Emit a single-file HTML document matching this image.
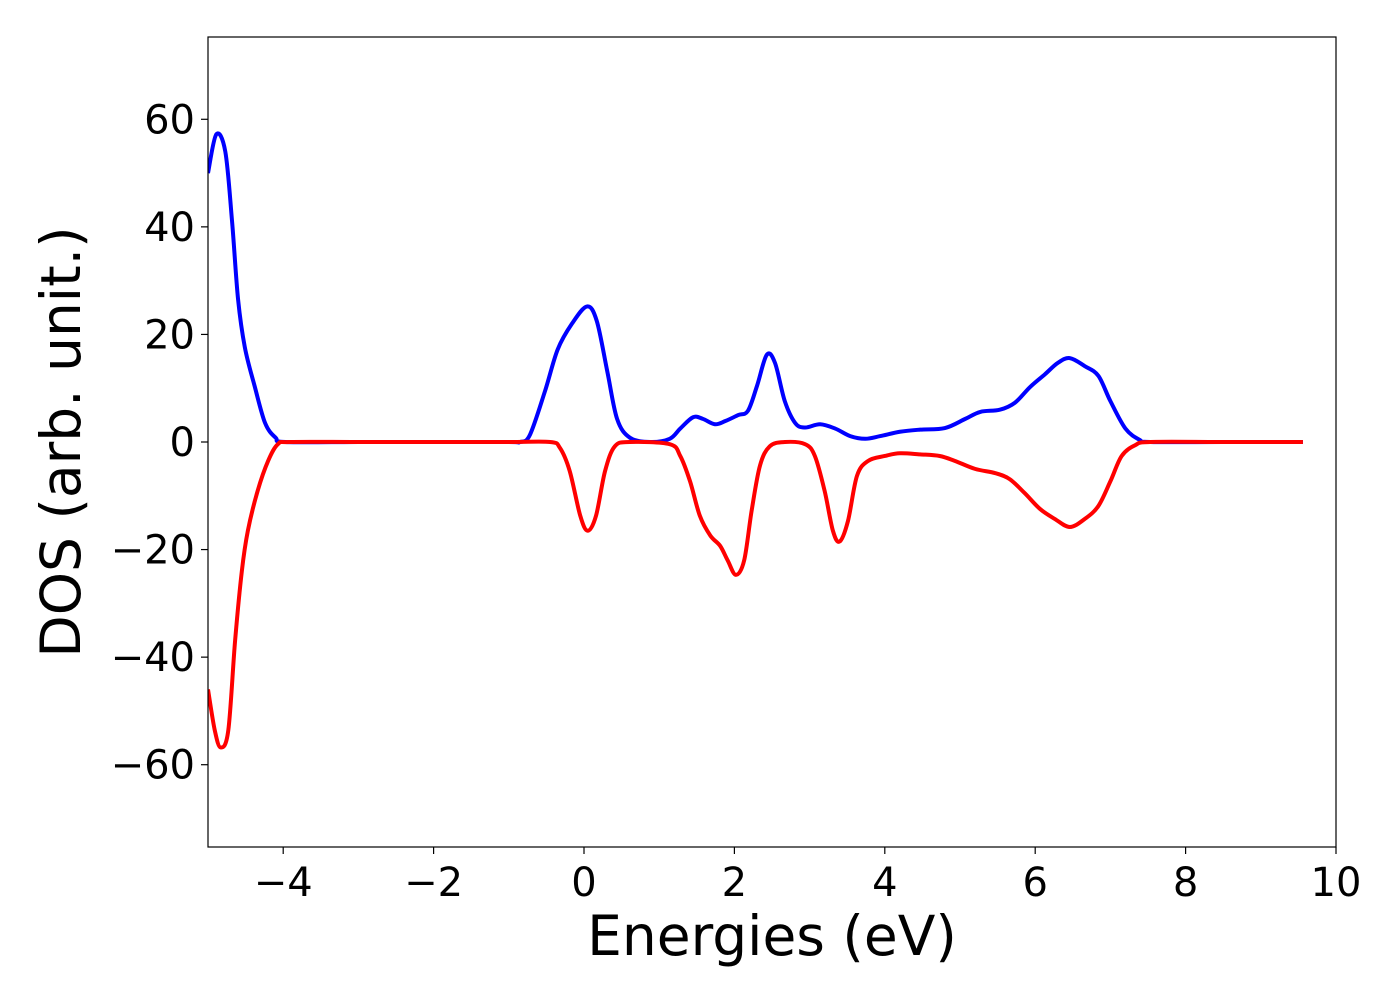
<!DOCTYPE html>
<html><head><meta charset="utf-8"><style>
html,body{margin:0;padding:0;background:#fff;}
svg text{font-family:"DejaVu Sans","Liberation Sans",sans-serif;fill:#000;}
</style></head><body>
<svg id="chart" width="1400" height="1000" viewBox="0 0 1400 1000" xmlns="http://www.w3.org/2000/svg">
<g id="plot"></g>
</svg>
<script>
const upE=[-5,-4.89,-4.77,-4.68,-4.6,-4.51,-4.38,-4.24,-4.1,-3.97,-3,-2,-1,-0.85,-0.72,-0.52,-0.35,-0.16,0.04,0.17,0.31,0.44,0.61,0.88,1.14,1.28,1.45,1.58,1.74,1.88,2.05,2.18,2.3,2.43,2.54,2.67,2.81,2.94,3.14,3.34,3.54,3.74,3.94,4.2,4.47,4.8,5.07,5.27,5.53,5.73,5.93,6.13,6.3,6.46,6.66,6.84,7.0,7.2,7.39,7.53,8.5,9.56];
const upV=[50,57.2,54,41,26.5,17.6,10.4,3.5,0.8,0,0,0,0,0,1.3,9.4,17.2,22,25.2,22.5,13.1,4.3,0.8,0,0.6,2.5,4.6,4.3,3.3,3.9,5,5.8,10.4,16.2,14.7,7.6,3.5,2.7,3.3,2.5,1.1,0.6,1.1,1.9,2.3,2.6,4.3,5.6,6,7.3,10.2,12.6,14.7,15.6,14.1,12.3,7.6,2.5,0.4,0,0,0];
const dnE=[-5,-4.91,-4.83,-4.73,-4.64,-4.55,-4.47,-4.34,-4.2,-4.07,-3.91,-3,-2,-1,-0.45,-0.32,-0.19,-0.05,0.05,0.16,0.28,0.41,0.61,1.14,1.28,1.41,1.54,1.68,1.81,1.91,2.02,2.13,2.23,2.34,2.47,2.67,2.94,3.07,3.2,3.31,3.4,3.51,3.63,3.78,4.0,4.2,4.47,4.73,4.93,5.2,5.47,5.66,5.86,6.06,6.26,6.46,6.66,6.84,7.0,7.15,7.33,7.53,8.5,9.56];
const dnV=[-46,-53.6,-56.8,-53.6,-37,-24,-16.5,-9.1,-3.5,-0.4,0,0,0,0,0,-1.1,-5.4,-13.7,-16.5,-13.7,-5.4,-0.8,0,-0.4,-2.6,-7.3,-13.7,-17.4,-19.3,-22,-24.7,-22,-12.7,-4.4,-0.8,0,-0.4,-2.6,-9.1,-16.5,-18.5,-14.7,-6.3,-3.5,-2.6,-2.1,-2.3,-2.6,-3.5,-5,-5.8,-6.9,-9.5,-12.4,-14.3,-15.8,-14.3,-11.9,-7.3,-2.6,-0.6,0,0,0];
const xTicks=[-4,-2,0,2,4,6,8,10];
const xTickLabels=["\u22124","\u22122","0","2","4","6","8","10"];
const yTicks=[-60,-40,-20,0,20,40,60];
const yTickLabels=["\u221260","\u221240","\u221220","0","20","40","60"];
const L=208,R=1336,T=37,B=847,xmin=-5,xmax=10,ymin=-75.3,ymax=75.3;
const X=v=>L+(v-xmin)/(xmax-xmin)*(R-L);
const Y=v=>B-(v-ymin)/(ymax-ymin)*(B-T);
const NS="http://www.w3.org/2000/svg";
const g=document.getElementById('plot');
function mk(t,a){const e=document.createElementNS(NS,t);for(const k in a)e.setAttribute(k,a[k]);g.appendChild(e);return e;}
function pathFor(E,V){
  const p=E.map((e,i)=>[X(e),Y(V[i])]);
  let d="M"+p[0][0]+","+p[0][1];
  for(let i=0;i<p.length-1;i++){
    const p0=p[Math.max(0,i-1)],p1=p[i],p2=p[i+1],p3=p[Math.min(p.length-1,i+2)];
    const c1x=p1[0]+(p2[0]-p0[0])/6,c1y=p1[1]+(p2[1]-p0[1])/6;
    const c2x=p2[0]-(p3[0]-p1[0])/6,c2y=p2[1]-(p3[1]-p1[1])/6;
    d+=` C${c1x},${c1y} ${c2x},${c2y} ${p2[0]},${p2[1]}`;
  }
  return d;
}
const defs=document.createElementNS(NS,'defs');
defs.innerHTML=`<clipPath id="clip"><rect x="${L}" y="${T}" width="${R-L}" height="${B-T}"/></clipPath>`;
g.appendChild(defs);
const up=mk('path',{d:pathFor(upE,upV),fill:'none',stroke:'#0000ff','stroke-width':4,'clip-path':'url(#clip)'});


const dn=mk('path',{d:pathFor(dnE,dnV),fill:'none',stroke:'#ff0000','stroke-width':4,'clip-path':'url(#clip)'});


const frame=mk('rect',{x:L,y:T,width:R-L,height:B-T,fill:'none',stroke:'#000','stroke-width':1.2});


xTicks.forEach((v,i)=>{
  const tk=mk('line',{x1:X(v),x2:X(v),y1:B,y2:B+7,stroke:'#000','stroke-width':1.2});
  
  
  const t=mk('text',{x:X(v),y:B+49,'font-size':40,'text-anchor':'middle'});
  t.textContent=xTickLabels[i];
  
  
});
yTicks.forEach((v,i)=>{
  const tk=mk('line',{x1:L-7,x2:L,y1:Y(v),y2:Y(v),stroke:'#000','stroke-width':1.2});
  
  
  const t=mk('text',{x:L-13,y:Y(v)+14,'font-size':40,'text-anchor':'end'});
  t.textContent=yTickLabels[i];
  
  
});
const xt=mk('text',{x:(L+R)/2,y:955,'font-size':55,'text-anchor':'middle'});
xt.textContent='Energies (eV)';


const yt=mk('text',{x:0,y:0,'font-size':55,'text-anchor':'middle',transform:`translate(80,${(T+B)/2}) rotate(-90)`});
yt.textContent='DOS (arb. unit.)';


</script>
</body></html>
